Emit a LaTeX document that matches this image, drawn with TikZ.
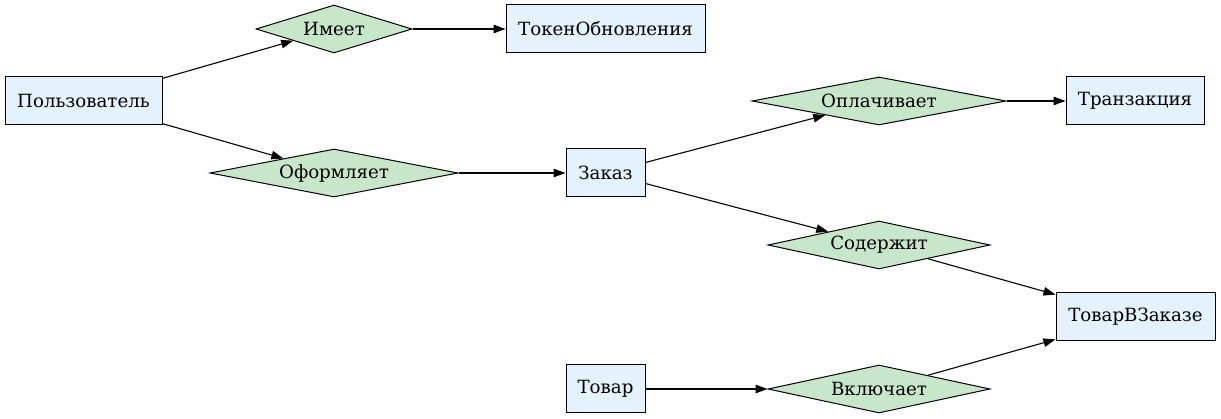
\documentclass[tikz,border=0pt]{standalone}
\usepackage{fontspec}
\setmainfont{DejaVu Serif}
\usetikzlibrary{shapes.geometric,arrows.meta}
\definecolor{entfill}{HTML}{E3F2FD}
\definecolor{relfill}{HTML}{C8E6C9}
\begin{document}
\begin{tikzpicture}[x=1pt,y=-1pt,
  entity/.style={draw=black, fill=entfill, rectangle, inner sep=0pt, minimum height=48pt, font=\fontsize{18.2}{21}\selectfont, line width=1pt},
  rel/.style={draw=black, fill=relfill, diamond, inner sep=0pt, minimum height=48pt, font=\fontsize{18.2}{21}\selectfont, line width=1pt},
  link/.style={draw=black, line width=1.1pt, -{Triangle[length=12pt,width=8.5pt]}}]
\useasboundingbox (0,0) rectangle (1221,419);
\node[entity, minimum width=157pt] (user) at (83.5,101) {Пользователь};
\node[rel, minimum width=156pt, aspect=3.25] (has) at (334,29) {Имеет};
\node[entity, minimum width=199pt] (token) at (605.5,29) {ТокенОбновления};
\node[rel, minimum width=248pt, aspect=5.17] (places) at (334,173) {Оформляет};
\node[entity, minimum width=79pt] (order) at (605.5,173) {Заказ};
\node[rel, minimum width=254pt, aspect=5.3] (pays) at (879,101) {Оплачивает};
\node[entity, minimum width=138pt] (trans) at (1135,101) {Транзакция};
\node[rel, minimum width=222pt, aspect=4.6] (contains) at (879,245) {Содержит};
\node[entity, minimum width=159pt] (item) at (1135.5,317) {ТоварВЗаказе};
\node[entity, minimum width=79pt] (product) at (605.5,389) {Товар};
\node[rel, minimum width=222pt, aspect=4.6] (includes) at (879,389) {Включает};
\draw[link] (user) -- (has);
\draw[link] (user) -- (places);
\draw[link] (has) -- (token);
\draw[link] (places) -- (order);
\draw[link] (order) -- (pays);
\draw[link] (order) -- (contains);
\draw[link] (pays) -- (trans);
\draw[link] (contains) -- (item);
\draw[link] (product) -- (includes);
\draw[link] (includes) -- (item);
\end{tikzpicture}
\end{document}
